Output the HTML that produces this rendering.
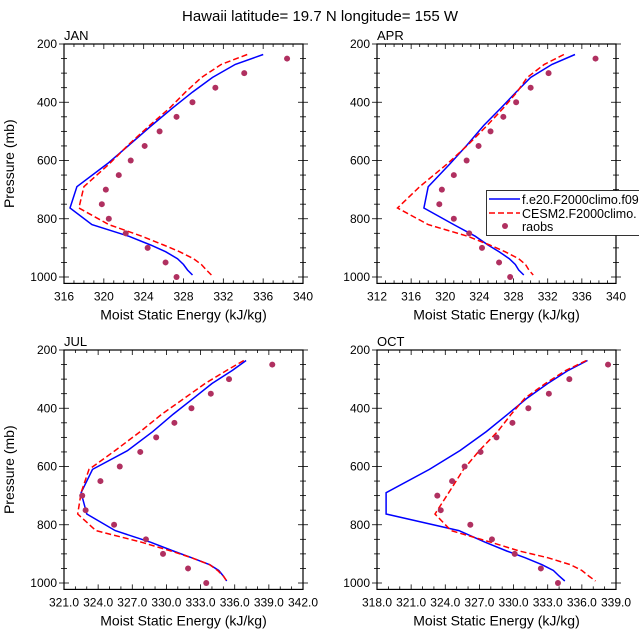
<!DOCTYPE html>
<html><head><meta charset="utf-8"><style>
body{margin:0;background:#fff;}
svg{display:block;font-family:"Liberation Sans",Arial,sans-serif;}
</style></head><body>
<svg id="chart" width="639" height="639" viewBox="0 0 639 639">
<text x="320" y="21" text-anchor="middle" font-size="15">Hawaii  latitude= 19.7 N longitude= 155 W</text>
</svg>
<script>
const modelLevels=[236,270,315,365,420,480,545,610,690,763,820,860,890,913,937,957,976,993];
const obsLevels=[250,300,350,400,450,500,550,600,650,700,750,800,850,900,950,1000];
const months=["JAN","APR","JUL","OCT"];
const janBlue=[336.0,333.2,330.9,328.9,326.9,324.8,322.6,320.4,317.3,316.6,318.8,322.5,324.7,326.2,327.4,328.0,328.4,328.9];
const janRed=[334.4,331.8,329.8,328.2,326.6,324.6,322.5,320.6,318.0,317.5,320.5,323.8,326.0,327.6,329.0,329.8,330.3,330.8];
const janObs=[338.4,334.1,331.2,328.9,327.3,325.6,324.1,322.7,321.5,320.2,319.8,320.5,322.2,324.4,326.2,327.3];
const aprBlue=[335.2,332.5,330.0,328.3,326.5,324.5,322.6,320.6,318.0,317.5,321.0,323.5,325.0,326.3,327.5,328.2,328.6,329.2];
const aprRed=[333.9,331.6,329.6,328.4,326.8,324.9,322.7,320.3,317.0,314.4,318.0,322.6,325.2,327.0,328.6,329.4,329.8,330.3];
const aprObs=[337.6,332.1,330.0,328.3,326.8,325.3,323.9,322.5,321.0,319.6,319.3,321.0,322.8,324.3,326.3,327.6];
const julBlue=[337.0,335.8,334.0,332.4,330.6,328.8,326.6,323.5,322.5,323.0,325.5,328.6,330.6,332.2,333.8,334.6,335.0,335.3];
const julRed=[336.8,335.3,333.4,331.6,329.6,327.7,325.5,323.2,322.5,322.2,323.8,327.8,330.4,332.2,333.8,334.5,335.0,335.3];
const julObs=[339.3,335.5,333.9,332.2,330.7,329.1,327.7,325.9,324.2,322.6,322.9,325.4,328.2,329.7,331.9,333.5];
const octBlue=[336.5,334.8,333.0,331.2,329.5,327.6,325.3,322.6,318.8,318.8,325.2,327.5,329.4,331.0,332.5,333.5,334.0,334.5];
const octRed=[336.4,334.6,332.8,331.0,329.8,328.6,327.0,325.6,324.3,323.1,324.5,328.0,330.5,333.0,335.0,336.0,336.6,337.2];
const octObs=[338.3,334.9,333.1,331.3,329.9,328.5,327.1,325.7,324.6,323.3,323.6,326.2,328.1,330.1,332.4,333.9];
const xTicksA=["316","320","324","328","332","336","340"];
const xTicksB=["312","316","320","324","328","332","336","340"];
const xTicksC=["321.0","324.0","327.0","330.0","333.0","336.0","339.0","342.0"];
const xTicksD=["318.0","321.0","324.0","327.0","330.0","333.0","336.0","339.0"];
const yTicks=[200,400,600,800,1000];

const NS="http://www.w3.org/2000/svg";
const svg=document.getElementById('chart');
function mk(tag,attrs,parent){const e=document.createElementNS(NS,tag);for(const k in attrs)e.setAttribute(k,attrs[k]);(parent||svg).appendChild(e);return e;}

const panels=[
 {m:0,x0:64,y0:44,ticks:xTicksA,minor:4,blue:janBlue,red:janRed,obs:janObs,ylab:true},
 {m:1,x0:377,y0:44,ticks:xTicksB,minor:4,blue:aprBlue,red:aprRed,obs:aprObs,ylab:false},
 {m:2,x0:64,y0:350,ticks:xTicksC,minor:3,blue:julBlue,red:julRed,obs:julObs,ylab:true},
 {m:3,x0:377,y0:350,ticks:xTicksD,minor:3,blue:octBlue,red:octRed,obs:octObs,ylab:false}
];
const W=239, PH=233;
panels.forEach(p=>{
  const g=mk('g',{});
  
  
  const xmin=parseFloat(p.ticks[0]), xmax=parseFloat(p.ticks[p.ticks.length-1]);
  const sx=v=>p.x0+(v-xmin)/(xmax-xmin)*W;
  const sy=v=>p.y0+(v-200)/800*PH;
  const yb=sy(1022);
  const box=mk('rect',{x:p.x0,y:p.y0,width:W,height:yb-p.y0,fill:'none',stroke:'#000','stroke-width':1.2},g);
  
  
  const nMaj=p.ticks.length-1;
  for(let i=0;i<=nMaj*p.minor;i++){
    const x=p.x0+i*W/(nMaj*p.minor); const major=i%p.minor===0; const L=major?5:3;
    mk('line',{x1:x,x2:x,y1:yb,y2:yb-L,stroke:'#000','stroke-width':0.8},g);
    mk('line',{x1:x,x2:x,y1:p.y0,y2:p.y0+L,stroke:'#000','stroke-width':0.8},g);
  }
  p.ticks.forEach((t,i)=>{
    const tx=mk('text',{x:sx(parseFloat(t)),y:yb+17,'text-anchor':'middle','font-size':12},g);
    tx.textContent=t;
    
    
  });
  for(let v=200;v<=1000;v+=50){
    const y=sy(v); const major=v%200===0; const L=major?5:3;
    mk('line',{x1:p.x0-L,x2:p.x0+L,y1:y,y2:y,stroke:'#000','stroke-width':0.8},g);
    mk('line',{x1:p.x0+W-L,x2:p.x0+W+L,y1:y,y2:y,stroke:'#000','stroke-width':0.8},g);
  }
  yTicks.forEach(v=>{
    const tx=mk('text',{x:p.x0-7,y:sy(v)+4,'text-anchor':'end','font-size':12},g);
    tx.textContent=v;
    
    
  });
  const xt=mk('text',{x:p.x0+W/2,y:yb+36,'text-anchor':'middle','font-size':14},g);
  xt.textContent='Moist Static Energy (kJ/kg)';
  
  
  if(p.ylab){
    const yt=mk('text',{x:0,y:0,'text-anchor':'middle','font-size':14,transform:`translate(14,${p.y0+(yb-p.y0)/2}) rotate(-90)`},g);
    yt.textContent='Pressure (mb)';
    
    
  }
  const ml=mk('text',{x:p.x0,y:p.y0-4,'font-size':13},g);
  ml.textContent=months[p.m];
  
  
  const pts=arr=>arr.map((v,i)=>sx(v).toFixed(1)+','+sy(modelLevels[i]).toFixed(1)).join(' ');
  const bl=mk('polyline',{points:pts(p.blue),fill:'none',stroke:'#0000ff','stroke-width':1.5},g);
  
  
  const rl=mk('polyline',{points:pts(p.red),fill:'none',stroke:'#ff0000','stroke-width':1.5,'stroke-dasharray':'6,3'},g);
  
  
  p.obs.forEach((v,i)=>{
    const c=mk('circle',{cx:sx(v),cy:sy(obsLevels[i]),r:3,fill:'#b03060'},g);
    
    
  });
});
const lg=mk('g',{});


mk('rect',{x:486.5,y:190.5,width:160,height:45,fill:'#fff',stroke:'#000','stroke-width':0.8},lg);
mk('line',{x1:489,x2:520,y1:199,y2:199,stroke:'#0000ff','stroke-width':1.5},lg);
mk('line',{x1:489,x2:520,y1:213,y2:213,stroke:'#ff0000','stroke-width':1.5,'stroke-dasharray':'6,3'},lg);
mk('circle',{cx:505,cy:226,r:3,fill:'#b03060'},lg);
[["f.e20.F2000climo.f09",204],["CESM2.F2000climo.",218],["raobs",231]].forEach(([t,y])=>{
  const tx=mk('text',{x:522,y:y,'font-size':12.5},lg);
  tx.textContent=t;
  
  
});
</script>
</body></html>
